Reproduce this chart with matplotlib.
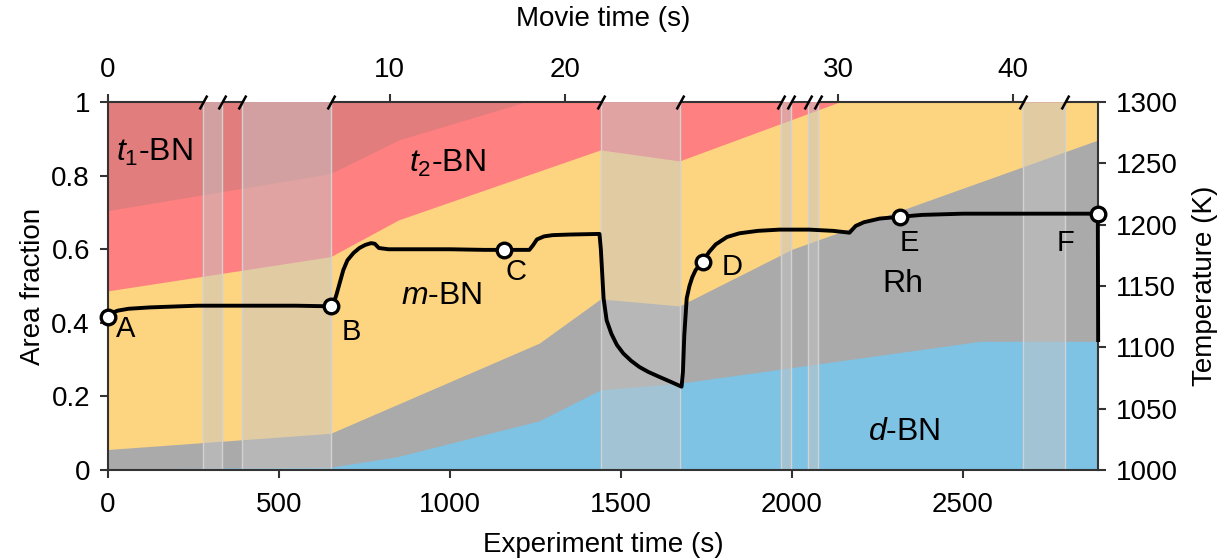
import numpy as np
import matplotlib.pyplot as plt
from matplotlib.transforms import blended_transform_factory

plt.rcParams['font.family'] = ['Liberation Sans', 'DejaVu Sans']
plt.rcParams['font.size'] = 20
plt.rcParams['mathtext.fontset'] = 'custom'
plt.rcParams['mathtext.rm'] = 'Liberation Sans'
plt.rcParams['mathtext.it'] = 'Liberation Sans:italic'

t_end = 2895

# cumulative area fraction (top edge of each phase), own time points each
dbn_t = [0, 651, 843, 1261, 1440, 1671, 2550, t_end]
dbn_y = [0.003, 0.008, 0.036, 0.134, 0.218, 0.236, 0.35, 0.35]
rh_t = [0, 651, 1261, 1440, 1671, 2000, t_end]
rh_y = [0.056, 0.10, 0.345, 0.465, 0.446, 0.60, 0.897]
mbn_t = [0, 651, 850, 1440, 1671, 2138, t_end]
mbn_y = [0.487, 0.58, 0.68, 0.87, 0.84, 1.0, 1.0]
t2_t = [0, 651, 850, 1220, t_end]
t2_y = [0.705, 0.806, 0.897, 1.0, 1.0]

# temperature trace (K)
temp_t = [0, 10, 29, 60, 122, 200, 261, 400, 550, 651, 660, 668, 677, 688, 700, 718, 735,
          752, 769, 780, 792, 820, 900, 1000, 1100, 1159, 1232, 1242, 1254, 1275, 1300, 1350,
          1437, 1441, 1445, 1449, 1458, 1472, 1488, 1507, 1530, 1554, 1580, 1612, 1645, 1677,
          1681, 1685, 1692, 1700, 1708, 1718, 1739, 1758, 1777, 1810, 1846, 1900, 1963, 2050,
          2120, 2168, 2176, 2186, 2210, 2256, 2317, 2380, 2500, 2700, 2894, 2895]
temp_k = [1125, 1128, 1130, 1131.5, 1132.6, 1133.4, 1134, 1134, 1134, 1133.5, 1136, 1143, 1152,
          1163, 1171, 1177, 1181, 1183.5, 1185, 1184.5, 1181, 1180, 1180, 1180, 1179.5, 1179.5,
          1179.5, 1183, 1188, 1190.5, 1191.5, 1192, 1192.5, 1180, 1160, 1140, 1122, 1111, 1102,
          1095, 1089, 1084, 1080, 1076, 1072, 1068, 1080, 1110, 1140, 1150, 1157, 1163, 1170,
          1178, 1184, 1190, 1193, 1195, 1196, 1196, 1195, 1193.5, 1196, 1199, 1202, 1205,
          1206.5, 1208, 1209, 1209, 1209, 1106]

pts_t = [0, 651, 1159, 1739, 2317, 2894]
pts_k = [1125, 1133.5, 1179.5, 1170, 1206.5, 1209]
pts_lab = ['A', 'B', 'C', 'D', 'E', 'F']
lab_t = [53, 711, 1192, 1826, 2344, 2800]
lab_y = [0.383, 0.376, 0.539, 0.552, 0.617, 0.617]

# phase labels
phase_lab = [r'$\mathit{t_1}$-BN', r'$\mathit{t_2}$-BN', r'$\mathit{m}$-BN', 'Rh', r'$\mathit{d}$-BN']
phase_t = [136, 993, 975, 2323, 2329]
phase_y = [0.864, 0.834, 0.473, 0.505, 0.103]

# time windows cut out of the movie
gaps = [(279, 333), (393, 651), (1440, 1671), (1969, 1996), (2048, 2077), (2674, 2797)]
movie_rate = 51.2   # experiment s per movie s
movie_ticks = [0, 10, 20, 30, 40]

c_t1 = '#e17d7d'
c_t2 = '#ff8080'
c_m = '#fdd480'
c_rh = '#aaaaaa'
c_d = '#7ec2e4'
axcol = '#333333'


def movie_to_exp(m):
    t = m * movie_rate
    for a, b in gaps:
        if a < t:
            t += b - a
    return t


fig = plt.figure(figsize=(12.27, 5.59), dpi=100)
ax = fig.add_axes([0.088, 0.159, 0.807, 0.6585])

# stacked phases, drawn from the top one down so there are no seams
ax.fill_between([0, t_end], 0, 1, color=c_t1, lw=0)
ax.fill_between(t2_t, 0, t2_y, color=c_t2, lw=0)
ax.fill_between(mbn_t, 0, mbn_y, color=c_m, lw=0)
ax.fill_between(rh_t, 0, rh_y, color=c_rh, lw=0)
ax.fill_between(dbn_t, 0, dbn_y, color=c_d, lw=0)

for a, b in gaps:
    ax.axvspan(a, b, color='#c4c4c4', alpha=0.5, lw=0)
    ax.axvline(a, color='#d2d2d2', lw=1)
    ax.axvline(b, color='#d2d2d2', lw=1)

ax.set_xlim(0, t_end)
ax.set_ylim(0, 1)
ax.set_xticks([0, 500, 1000, 1500, 2000, 2500])
ax.set_yticks([0, 0.2, 0.4, 0.6, 0.8, 1])
ax.set_yticklabels(['0', '0.2', '0.4', '0.6', '0.8', '1'])
ax.set_xlabel('Experiment time (s)', labelpad=10)
ax.set_ylabel('Area fraction', labelpad=4)
ax.tick_params(axis='y', direction='out', length=6, width=1.5, color=axcol, pad=7)
ax.tick_params(axis='x', direction='out', length=6, width=1.5, color=axcol, pad=10)
for s in ['left', 'bottom', 'right']:
    ax.spines[s].set_color(axcol)
    ax.spines[s].set_linewidth(1.5)
ax.spines['top'].set_visible(False)

# top spine broken at each cut, with slash marks
tr = blended_transform_factory(ax.transData, ax.transAxes)
edges = [0] + [v for g in gaps for v in g] + [t_end]
for a, b in zip(edges[0::2], edges[1::2]):
    ax.plot([a, b], [1, 1], color=axcol, lw=1.5, transform=tr, clip_on=False,
            solid_capstyle='butt', zorder=5)
for g in gaps:
    for v in g:
        ax.plot([v], [1], marker=[(-0.55, -1), (0.55, 1)], ms=10, mew=1.8, color='black',
                transform=tr, clip_on=False, zorder=6)

top = ax.secondary_xaxis('top')
top.set_xticks([movie_to_exp(m) for m in movie_ticks])
top.set_xticklabels([str(m) for m in movie_ticks])
top.tick_params(direction='out', length=6, width=1.5, color=axcol, pad=8)
top.spines['top'].set_visible(False)
top.set_xlabel('Movie time (s)', labelpad=22)

ax2 = ax.twinx()
ax2.set_ylim(1000, 1300)
ax2.set_yticks([1000, 1050, 1100, 1150, 1200, 1250, 1300])
ax2.tick_params(direction='out', length=6, width=1.5, color=axcol, pad=7)
for s in ax2.spines.values():
    s.set_visible(False)
ax2.set_ylabel('Temperature (K)', labelpad=10)
ax2.plot(temp_t, temp_k, color='black', lw=2.8, solid_joinstyle='round', clip_on=False)
ax2.plot(pts_t, pts_k, 'o', ms=10.5, mfc='white', mec='black', mew=2.4, clip_on=False, zorder=5)

for lab, x, y in zip(pts_lab, lab_t, lab_y):
    ax2.text(x, y, lab, transform=tr, ha='center', va='center', fontsize=21)

for lab, x, y in zip(phase_lab, phase_t, phase_y):
    ax2.text(x, y, lab, transform=tr, ha='center', va='center', fontsize=23)

fig.savefig('out.png', dpi=100)
